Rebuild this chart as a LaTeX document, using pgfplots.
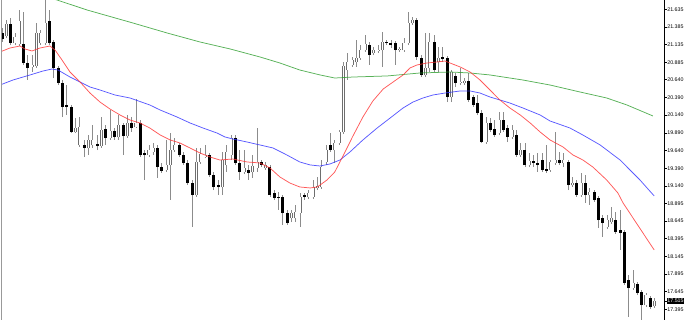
\documentclass[border=0pt]{standalone}
\usepackage{fontspec}
\setmainfont{Liberation Sans}
\usepackage{pgfplots}
\usepackage{pgfplotstable}
\pgfplotsset{compat=1.18}
\definecolor{wick}{HTML}{8C8C8C}
\definecolor{bullline}{HTML}{6E6E6E}
\definecolor{maRed}{HTML}{FF3030}
\definecolor{maBlue}{HTML}{3030FF}
\definecolor{maGreen}{HTML}{2E9E2E}
% bullish candles (close >= open)
\pgfplotstableread{
i o h l c
1 21.257 21.484 21.229 21.427
3 21.159 21.300 21.130 21.243
4 21.145 21.625 21.116 21.469
7 20.820 20.989 20.749 20.848
8 20.834 21.441 20.806 21.300
9 21.159 21.342 21.130 21.300
10 21.159 21.780 21.130 21.441
17 19.902 20.099 19.888 19.958
18 19.718 20.113 19.690 19.972
20 19.676 19.859 19.577 19.789
21 19.718 20.001 19.676 19.789
23 19.704 20.113 19.676 19.930
25 19.817 20.212 19.789 19.916
27 19.831 20.142 19.789 20.001
29 19.845 20.142 19.817 20.029
31 19.972 20.368 19.958 20.029
34 19.577 19.718 19.549 19.647
35 19.619 19.746 19.577 19.676
38 19.365 19.789 19.337 19.436
39 19.436 19.888 18.941 19.647
40 19.647 19.817 19.619 19.718
45 19.012 19.676 18.984 19.478
46 19.478 19.676 19.450 19.591
47 19.549 19.718 19.534 19.577
51 19.125 19.619 19.012 19.506
52 19.436 19.718 19.337 19.619
53 19.577 19.859 19.506 19.817
56 19.337 19.647 19.308 19.393
58 19.337 19.577 19.252 19.421
59 19.393 19.958 19.337 19.478
61 19.393 19.478 19.365 19.436
67 18.687 18.800 18.630 18.758
68 18.687 18.871 18.630 18.772
69 18.758 19.040 18.560 18.984
71 18.984 19.082 18.955 19.040
72 18.984 19.224 18.955 19.125
73 19.111 19.266 19.082 19.139
74 19.125 19.506 19.097 19.407
75 19.478 19.718 19.436 19.647
77 19.647 19.789 19.464 19.746
78 19.746 19.930 19.718 19.902
79 19.902 20.890 19.873 20.834
80 20.777 21.017 20.636 20.890
81 20.848 20.961 20.820 20.919
82 20.890 21.201 20.820 20.947
83 20.947 21.130 20.919 21.060
84 21.060 21.272 21.032 21.145
86 21.017 21.102 20.989 21.060
87 21.046 21.130 21.017 21.060
88 21.060 21.314 20.820 21.173
92 21.060 21.102 21.032 21.074
93 21.060 21.229 21.032 21.159
94 21.159 21.597 21.130 21.441
95 21.441 21.526 21.413 21.484
98 20.707 21.300 20.678 20.806
99 20.806 21.300 20.749 21.173
101 20.890 21.102 20.749 20.947
104 20.396 20.777 20.325 20.749
106 20.594 20.806 20.565 20.608
107 20.594 20.664 20.565 20.622
112 19.760 20.113 19.732 20.029
115 19.888 20.184 19.859 20.071
118 19.831 20.001 19.803 19.930
120 19.577 19.746 19.549 19.647
122 19.436 19.605 19.407 19.492
127 19.365 19.506 19.337 19.478
128 19.464 19.902 19.436 19.506
130 19.464 19.605 19.407 19.506
132 19.153 19.266 19.125 19.181
134 19.012 19.323 18.984 19.181
136 19.012 19.111 18.871 19.054
140 18.560 18.729 18.532 18.659
141 18.630 18.842 18.602 18.687
146 17.698 17.953 17.670 17.769
149 17.458 17.628 17.430 17.600
151 17.444 17.557 17.416 17.515
}\bulls
% bearish candles (close < open)
\pgfplotstableread{
i o h l c
0 21.300 21.371 21.173 21.215
2 21.427 21.512 21.130 21.159
5 21.145 21.597 20.848 20.876
6 20.876 20.989 20.636 20.806
11 21.469 21.625 21.130 21.159
12 21.173 21.201 20.664 20.806
13 20.806 20.834 20.565 20.594
14 20.594 20.636 20.113 20.255
15 20.283 20.565 20.142 20.255
16 20.255 20.283 19.888 19.902
19 19.718 19.789 19.549 19.676
22 19.732 19.859 19.647 19.704
24 19.944 20.001 19.718 19.817
26 19.916 19.958 19.789 19.831
28 20.001 20.029 19.577 19.845
30 20.029 20.113 19.902 19.958
32 20.029 20.071 19.549 19.577
33 19.605 19.647 19.224 19.577
36 19.676 19.718 19.252 19.407
37 19.407 19.464 19.323 19.351
41 19.718 19.746 19.549 19.577
42 19.577 19.619 19.436 19.464
43 19.464 19.506 19.153 19.181
44 19.181 19.224 18.560 19.012
48 19.577 19.605 19.266 19.294
49 19.294 19.337 19.082 19.125
50 19.153 19.224 19.012 19.125
54 19.817 19.859 19.436 19.464
55 19.464 19.647 19.224 19.337
57 19.365 19.436 19.224 19.323
60 19.478 19.506 19.407 19.436
62 19.407 19.436 18.984 19.012
63 19.040 19.082 18.941 18.969
64 18.984 19.054 18.800 18.969
65 18.984 19.012 18.588 18.758
66 18.758 18.800 18.588 18.616
70 19.012 19.040 18.941 18.984
76 19.718 19.888 19.619 19.647
85 21.130 21.173 20.848 20.989
89 21.173 21.201 21.130 21.159
90 21.159 21.201 21.088 21.130
91 21.159 21.187 20.848 21.060
96 21.484 21.512 20.919 20.961
97 20.947 20.989 20.678 20.707
100 21.173 21.272 20.749 20.777
102 20.961 21.102 20.890 20.933
103 20.947 20.975 20.325 20.396
105 20.693 20.735 20.537 20.594
108 20.622 20.735 20.325 20.354
109 20.396 20.424 20.255 20.283
110 20.311 20.424 20.142 20.170
111 20.170 20.212 19.746 19.760
113 20.029 20.099 19.902 19.930
114 19.944 20.071 19.831 19.859
116 20.071 20.184 19.902 19.930
117 19.958 20.001 19.760 19.831
119 19.859 19.930 19.549 19.577
121 19.647 19.746 19.407 19.436
123 19.492 19.577 19.407 19.464
124 19.464 19.605 19.337 19.436
125 19.506 19.605 19.337 19.365
126 19.379 19.718 19.323 19.351
129 19.506 19.619 19.436 19.464
131 19.478 19.506 19.082 19.153
133 19.181 19.224 18.984 19.012
135 19.181 19.294 18.899 19.012
137 19.054 19.082 18.913 18.941
138 18.969 18.998 18.546 18.659
139 18.687 18.729 18.419 18.616
142 18.659 18.772 18.461 18.489
143 18.517 18.800 18.235 18.475
144 18.489 18.517 17.741 17.769
145 17.811 17.882 17.289 17.698
147 17.755 17.783 17.600 17.628
148 17.642 17.670 17.240 17.458
150 17.557 17.585 17.402 17.430
}\bears
\begin{document}
\begin{tikzpicture}
\begin{axis}[
  at={(1.7pt,0pt)}, anchor=south west,
  scale only axis, width=662.3pt, height=320pt,
  xmin=-0.07, xmax=153.17, ymin=17.246, ymax=21.766,
  axis x line=none, axis y line*=right,
  axis line style={black, line width=0.8pt, -},
  xtick=\empty,
  ytick={17.395,17.645,17.895,18.145,18.395,18.645,18.895,19.140,19.390,19.640,19.890,20.140,20.390,20.640,20.885,21.135,21.385,21.635},
  yticklabels={17.395,17.645,17.895,18.145,18.395,18.645,18.895,19.140,19.390,19.640,19.890,20.140,20.390,20.640,20.885,21.135,21.385,21.635},
  extra y ticks={17.515}, extra y tick labels={17.515},
  extra y tick style={yticklabel style={fill=black, text=white, font=\fontsize{5.3}{6}\selectfont, inner sep=0.7pt}},
  tick align=outside, major tick length=2.5pt,
  tick style={black, line width=0.6pt},
  yticklabel style={font=\fontsize{5.3}{6}\selectfont, inner sep=0.6pt},
  clip=true,
]
% wicks
\addplot[quiver={u=0, v=\thisrow{h}-\thisrow{l}}, -, draw=wick, line width=0.9pt, mark=none, forget plot]
  table[x=i, y=l] {\bulls};
\addplot[quiver={u=0, v=\thisrow{h}-\thisrow{l}}, -, draw=wick, line width=0.9pt, mark=none, forget plot]
  table[x=i, y=l] {\bears};
% bear bodies
\addplot[quiver={u=0, v=\thisrow{o}-\thisrow{c}+0.006}, -, draw=black, line width=3pt, mark=none, forget plot]
  table[x=i, y expr=\thisrow{c}-0.003] {\bears};
% bull bodies: outline then white fill
\addplot[quiver={u=0, v=\thisrow{c}-\thisrow{o}+0.012}, -, draw=bullline, line width=3pt, mark=none, forget plot]
  table[x=i, y expr=\thisrow{o}-0.006] {\bulls};
\addplot[quiver={u=0, v={max(\thisrow{c}-\thisrow{o}-0.012,0)}}, -, draw=white, line width=1.6pt, mark=none, forget plot]
  table[x=i, y expr=\thisrow{o}+0.006] {\bulls};
% green MA
\addplot[maGreen, line width=0.75pt, mark=none, opacity=0.8] coordinates {
(-0.46,22.006) (12.73,21.766) (19.67,21.625) (30.3,21.441) (38.2,21.300) (45.8,21.173) (52.8,21.074) (59.7,20.961) (64.3,20.876) (68.9,20.777) (73.6,20.707) (77.0,20.664) (81.2,20.678) (89.1,20.693) (96.7,20.735) (103.7,20.749) (108.3,20.735) (112.9,20.707) (120.5,20.636) (126.8,20.565) (133.7,20.467) (139.9,20.382) (144.6,20.283) (150.6,20.128)};
% blue MA
\addplot[maBlue, line width=0.75pt, mark=none, opacity=0.8] coordinates {
(-0.46,20.565) (2.55,20.636) (6.48,20.707) (9.49,20.763) (11.57,20.791) (12.96,20.777) (15.73,20.678) (18.05,20.608) (20.36,20.537) (22.67,20.495) (26.15,20.424) (29.6,20.382) (34.2,20.283) (36.6,20.212) (40.5,20.113) (43.5,20.029) (46.5,19.958) (49.7,19.888) (51.6,19.831) (53.4,19.803) (56.7,19.760) (59.7,19.718) (62.7,19.676) (65.9,19.577) (68.9,19.478) (71.3,19.436) (73.6,19.421) (75.9,19.450) (78.2,19.506) (80.5,19.619) (83.5,19.789) (86.8,19.958) (89.8,20.099) (92.8,20.241) (95.1,20.325) (97.4,20.382) (99.7,20.424) (102.5,20.452) (106.0,20.481) (108.3,20.481) (110.6,20.452) (112.9,20.396) (115.2,20.354) (117.5,20.311) (120.5,20.241) (124.5,20.142) (126.8,20.057) (131.4,19.958) (134.4,19.859) (138.4,19.718) (143.0,19.506) (145.3,19.365) (147.6,19.224) (150.9,18.998)};
% red MA
\addplot[maRed, line width=0.75pt, mark=none, opacity=0.8] coordinates {
(-0.46,21.032) (1.85,21.088) (4.16,21.116) (5.32,21.074) (6.94,21.046) (8.79,21.088) (11.1,21.116) (12.26,21.060) (13.88,20.919) (15.73,20.749) (18.05,20.608) (20.36,20.452) (22.67,20.325) (24.99,20.226) (27.3,20.142) (29.6,20.071) (31.9,20.029) (34.2,19.958) (36.6,19.859) (38.9,19.789) (41.2,19.746) (43.5,19.676) (45.8,19.605) (48.1,19.549) (50.4,19.506) (53.4,19.520) (56.7,19.478) (59.7,19.464) (62.0,19.393) (64.3,19.266) (66.6,19.181) (68.9,19.125) (71.3,19.111) (72.9,19.125) (73.6,19.153) (75.2,19.224) (77.0,19.337) (78.9,19.563) (81.2,19.845) (83.5,20.113) (85.8,20.339) (88.2,20.509) (90.5,20.608) (92.8,20.707) (94.4,20.806) (96.0,20.848) (98.3,20.876) (100.6,20.890) (102.5,20.904) (106.0,20.820) (108.3,20.749) (110.6,20.636) (112.9,20.495) (115.2,20.354) (117.5,20.241) (119.9,20.142) (122.2,20.029) (124.5,19.902) (126.8,19.789) (129.8,19.690) (132.1,19.577) (134.4,19.506) (136.7,19.407) (139.9,19.224) (142.5,19.040) (143.7,18.899) (146.0,18.687) (148.3,18.475) (150.9,18.235)};
\end{axis}
\draw[gray!80, line width=0.7pt] (current axis.south west) -- (current axis.north west);
\pgfresetboundingbox
\useasboundingbox (0,0) rectangle (685pt,320pt);
\end{tikzpicture}
\end{document}
